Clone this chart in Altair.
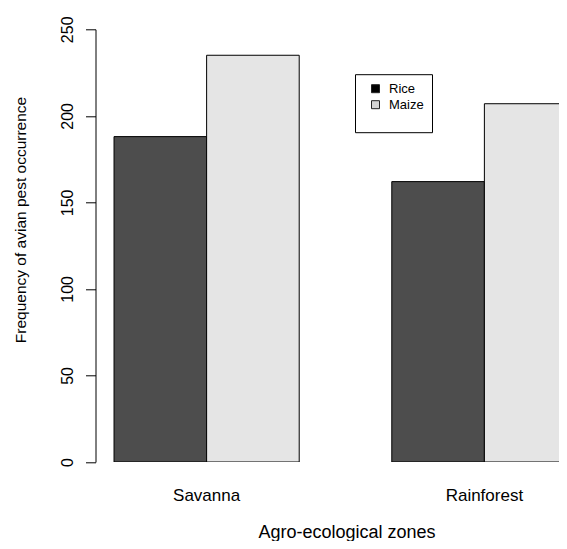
import altair as alt
import pandas as pd

zones = ["Savanna", "Rainforest"]
crops = ["Rice", "Maize"]
rice = [188, 162]
maize = [235, 207]
y_ticks = [0, 50, 100, 150, 200, 250]
bar_colors = ["#4D4D4D", "#E5E5E5"]
legend_colors = ["#000000", "#D3D3D3"]

rows = []
for i, z in enumerate(zones):
    rows.append({"zone": z, "crop": "Rice", "value": rice[i]})
    rows.append({"zone": z, "crop": "Maize", "value": maize[i]})
df = pd.DataFrame(rows)
df["crop_key"] = df["crop"]

FONT = "Liberation Sans"

x_enc = alt.X(
    "zone:N",
    sort=zones,
    scale=alt.Scale(domain=zones, range=[0, 500], paddingInner=1 / 3, paddingOuter=0.2 / 3),
    axis=alt.Axis(
        title="Agro-ecological zones",
        labelAngle=0,
        domain=False,
        ticks=False,
        grid=False,
        tickSize=0,
        labelPadding=38.7,
        labelBaseline="alphabetic",
        labelFontSize=17,
        labelColor="black",
        labelFont=FONT,
        titleFont=FONT,
        titleFontSize=18,
        titleFontWeight="normal",
        titleColor="black",
        titleX=251,
        titleY=75,
        titleAlign="center",
        titleBaseline="alphabetic",
    ),
)

y_enc = alt.Y(
    "value:Q",
    scale=alt.Scale(domain=[0, 250], nice=False, zero=True),
    axis=alt.Axis(
        values=y_ticks,
        title="Frequency of avian pest occurrence",
        grid=False,
        tickSize=10,
        tickColor="black",
        domainColor="black",
        labelAngle=270,
        labelAlign="center",
        labelBaseline="alphabetic",
        labelPadding=13.5,
        labelFontSize=16,
        labelColor="black",
        labelFont=FONT,
        titleFont=FONT,
        titleFontSize=15.5,
        titleFontWeight="normal",
        titleColor="black",
        titleAngle=270,
        titleX=-70,
        titleY=190.2,
        titleAlign="center",
        titleBaseline="alphabetic",
    ),
)

xoff = alt.XOffset("crop:N", sort=crops, scale=alt.Scale(domain=crops, paddingInner=0, paddingOuter=0))

bar_fill = (
    alt.when(alt.datum.crop == crops[0])
    .then(alt.value(bar_colors[0]))
    .otherwise(alt.value(bar_colors[1]))
)

legend_layer = alt.Chart(df).mark_square(opacity=0, size=64, clip=True).encode(
    x=x_enc,
    y=y_enc,
    xOffset=xoff,
    color=alt.Color(
        "crop_key:N",
        sort=crops,
        scale=alt.Scale(domain=crops, range=legend_colors),
        legend=alt.Legend(
            title=" ",
            titleOrient="bottom",
            titleFontSize=2,
            titlePadding=9.8,
            orient="none",
            legendX=259.5,
            legendY=44.9,
            strokeColor="black",
            fillColor="white",
            padding=8,
            labelFontSize=13,
            labelFont=FONT,
            labelColor="black",
            labelOffset=7,
            symbolOffset=6,
            symbolSize=64,
            symbolType="square",
            symbolOpacity=1,
            symbolStrokeColor="#222222",
            symbolStrokeWidth=1,
            rowPadding=2,
        ),
    ),
)

bars = alt.Chart(df).mark_bar(stroke="black", strokeWidth=1, clip=True).encode(
    x=x_enc,
    y=y_enc,
    xOffset=xoff,
    fill=bar_fill,
)

chart = (
    alt.layer(legend_layer, bars)
    .properties(
        width=463.5,
        height=432.7,
        autosize=alt.AutoSizeParams(type="none"),
        padding={"left": 87.5, "top": 21.3, "right": 0, "bottom": 79},
        background="white",
        view=alt.ViewBackground(stroke=None, strokeWidth=0),
    )
    .configure_view(strokeWidth=0, stroke=None)
    .configure_axis(grid=False)
    .configure(font=FONT)
)

chart.save("out.html", embed_options={"renderer": "svg", "actions": False})
